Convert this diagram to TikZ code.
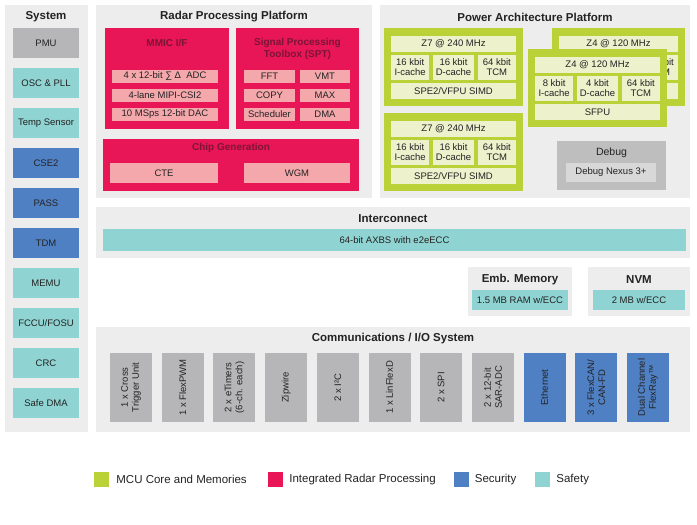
\documentclass[tikz,border=0pt]{standalone}
\usepackage{fontspec}
\setmainfont{Liberation Sans}
\usetikzlibrary{positioning}
\definecolor{panelgray}{RGB}{237,237,237}
\definecolor{blockgray}{RGB}{182,182,184}
\definecolor{safeteal}{RGB}{143,212,210}
\definecolor{secblue}{RGB}{80,128,196}
\definecolor{radarred}{RGB}{232,22,86}
\definecolor{radarpink}{RGB}{245,168,172}
\definecolor{coregreen}{RGB}{186,209,56}
\definecolor{corelight}{RGB}{237,242,204}
\definecolor{dbggray}{RGB}{190,190,190}
\definecolor{dbglight}{RGB}{216,216,216}
\definecolor{subtxt}{RGB}{125,20,55}
\definecolor{txtdark}{RGB}{35,35,35}
\tikzset{ptitle/.style={inner sep=0pt, text=txtdark,
			font=\fontsize{11.5}{12}\selectfont\bfseries},
	blk/.style={draw=none, inner sep=0pt, align=center, text=txtdark,
			font=\fontsize{9.5}{10}\selectfont},
	subtitle/.style={inner sep=0pt, align=center, text=subtxt,
			font=\fontsize{10}{12}\selectfont\bfseries},
	sysbox/.style={blk, minimum width=66pt, minimum height=30pt},
	redbox/.style={blk, fill=radarred},
	pinkcell/.style={blk, fill=radarpink, minimum height=13pt},
	greenbox/.style={blk, fill=coregreen},
	lightcell/.style={blk, fill=corelight},
	tealbox/.style={blk, fill=safeteal},
	iobox/.style={blk, rotate=90, minimum width=69pt, minimum height=42pt,
			font=\fontsize{9.5}{11}\selectfont},
	legsq/.style={inner sep=0pt, minimum size=15pt},
	legtext/.style={inner sep=0pt, text=txtdark, font=\fontsize{11.5}{12}\selectfont}}

\begin{document}
\begin{tikzpicture}[x=1pt,y=-1pt]
		\useasboundingbox[fill=white] (0,0) rectangle (697,525);
		
		% System
		\fill[panelgray] (5,5) rectangle (88,432);
		\node[ptitle] (systitle) at (46,17) {System};
		\foreach \lbl/\col [count=\i from 0] in {PMU/blockgray, OSC \& PLL/safeteal,
				Temp Sensor/safeteal, CSE2/secblue, PASS/secblue, TDM/secblue,
				MEMU/safeteal, {FCCU/FOSU}/safeteal, CRC/safeteal, Safe DMA/safeteal} {
			\node[sysbox, fill=\col] (sys\i) at (46,43+40*\i) {\lbl};
		}
		
		% Radar Processing Platform
		\fill[panelgray] (96,5) rectangle (372,198);
		\node[ptitle] (radtitle) at (234,17) {Radar Processing Platform};
		\node[redbox, minimum width=124pt, minimum height=101pt] (mmic) at (167,78.5) {};
		\node[subtitle] (mmictitle) at (167,43) {MMIC I/F};
		\foreach \txt [count=\i] in {4 x 12-bit ∑ Δ\ \ ADC, 4-lane MIPI-CSI2, 10 MSps 12-bit DAC} {
			\node[pinkcell, minimum width=106pt] (mmic\i) at (165,57.5+19*\i) {\txt};
		}
		\node[redbox, minimum width=123pt, minimum height=101pt] (spt) at (297.5,78.5) {};
		\node[subtitle] (spttitle) at (297.5,49) {Signal Processing\\Toolbox (SPT)};
		\foreach \la/\lb [count=\i] in {FFT/VMT, COPY/MAX, Scheduler/DMA} {
			\node[pinkcell, minimum width=51pt] (sptl\i) at (269.5,57.5+19*\i) {\la};
			\node[pinkcell, minimum width=50pt] (sptr\i) at (325,57.5+19*\i) {\lb};
		}
		\node[redbox, minimum width=256pt, minimum height=52pt] (chip) at (231,165) {};
		\node[subtitle] (chiptitle) at (231,148) {Chip Generation};
		\node[pinkcell, minimum width=108pt, minimum height=20pt] (cte) at (164,173) {CTE};
		\node[pinkcell, minimum width=106pt, minimum height=20pt] (wgm) at (297,173) {WGM};
		
		% Power Architecture Platform
		\fill[panelgray] (380,5) rectangle (690,198);
		\node[ptitle] (pwrtitle) at (535,17) {Power Architecture Platform};
		\foreach \nm/\xo/\yo/\bw/\ttl/\kbi/\kbd/\btm in {
				zsa/384/28/139/{Z7 @ 240 MHz}/16/16/{SPE2/VFPU SIMD},
				zsb/384/113/139/{Z7 @ 240 MHz}/16/16/{SPE2/VFPU SIMD},
				zfb/552/28/133/{Z4 @ 120 MHz}/8/4/SFPU,
				zff/528/49/139/{Z4 @ 120 MHz}/8/4/SFPU} {
			\pgfmathsetmacro\cw{(\bw-24)/3}
			\node[greenbox, minimum width=\bw pt, minimum height=78pt] (\nm) at (\xo+\bw/2,\yo+39) {};
			\node[lightcell, minimum width=\bw pt-14pt, minimum height=16pt] (\nm-t) at (\xo+\bw/2,\yo+16) {\ttl};
			\node[lightcell, minimum width=\cw pt, minimum height=25pt] (\nm-i) at (\xo+7+\cw/2,\yo+39.5) {\kbi{} kbit\\I-cache};
			\node[lightcell, minimum width=\cw pt+2pt, minimum height=25pt] (\nm-d) at (\xo+\bw/2,\yo+39.5) {\kbd{} kbit\\D-cache};
			\node[lightcell, minimum width=\cw pt, minimum height=25pt] (\nm-m) at (\xo+\bw-7-\cw/2,\yo+39.5) {64 kbit\\TCM};
			\node[lightcell, minimum width=\bw pt-14pt, minimum height=16pt] (\nm-b) at (\xo+\bw/2,\yo+63) {\btm};
		}
		\node[blk, fill=dbggray, minimum width=109pt, minimum height=49pt] (dbg) at (611.5,165.5) {};
		\node[blk, font=\fontsize{10.5}{11}\selectfont] (dbgtitle) at (611.5,153) {Debug};
		\node[blk, fill=dbglight, minimum width=90pt, minimum height=19pt] (nexus) at (611,172.5) {Debug Nexus 3+};
		
		% Interconnect and memories
		\fill[panelgray] (96,207) rectangle (690,258);
		\node[ptitle] (ictitle) at (393,219) {Interconnect};
		\node[tealbox, minimum width=583pt, minimum height=22pt] (axbs) at (394.5,240) {64-bit AXBS with e2eECC};
		\fill[panelgray] (468,267) rectangle (572,316);
		\node[ptitle] (memtitle) at (520,280) {Emb. Memory};
		\node[tealbox, minimum width=96pt, minimum height=20pt] (ram) at (520,300) {1.5 MB RAM w/ECC};
		\fill[panelgray] (588,267) rectangle (690,316);
		\node[ptitle] (nvmtitle) at (639,280) {NVM};
		\node[tealbox, minimum width=92pt, minimum height=20pt] (nvm) at (639,300) {2 MB w/ECC};
		
		% Communications / I/O
		\fill[panelgray] (96,327) rectangle (690,432);
		\node[ptitle] (iotitle) at (393,339) {Communications / I/O System};
		\foreach \lbl/\col [count=\i from 0] in {{1 x Cross\\Trigger Unit}/blockgray,
				{1 x FlexPWM}/blockgray, {2 x eTimers\\(6-ch. each)}/blockgray,
				Zipwire/blockgray, {2 x I²C}/blockgray, {1 x LinFlexD}/blockgray,
				{2 x SPI}/blockgray, {2 x 12-bit\\SAR-ADC}/blockgray, Ethernet/secblue,
				{3 x FlexCAN/\\CAN-FD}/secblue, {Dual Channel\\FlexRay™}/secblue} {
			\node[iobox, fill=\col] (io\i) at (131+51.7*\i,387.5) {\lbl};
		}
		
		% legend
		\node[legsq, fill=coregreen] (lg1) at (101.5,479.5) {};
		\node[legsq, fill=radarred] (lg2) at (275.5,479.5) {};
		\node[legsq, fill=secblue] (lg3) at (461,479.5) {};
		\node[legsq, fill=safeteal] (lg4) at (542.5,479.5) {};
		\node[legtext, right=7pt of lg1] (lgt1) {MCU Core and Memories};
		\node[legtext, right=6pt of lg2] (lgt2) {Integrated Radar Processing};
		\node[legtext, right=6pt of lg3] (lgt3) {Security};
		\node[legtext, right=6pt of lg4] (lgt4) {Safety};
	\end{tikzpicture}
\end{document}
